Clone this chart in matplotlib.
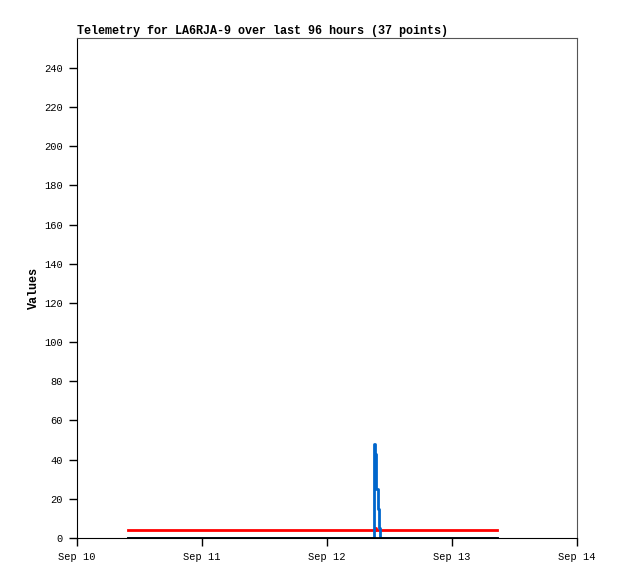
import pandas as pd
import matplotlib
matplotlib.use('Agg')
import matplotlib.pyplot as plt
import matplotlib.dates as mdates
import matplotlib.ticker as ticker

# telemetry samples (37 points)
times = ['2014-09-10 09:48', '2014-09-10 12:00', '2014-09-10 14:30', '2014-09-10 17:00',
         '2014-09-10 19:30', '2014-09-10 22:00', '2014-09-11 00:30', '2014-09-11 03:00',
         '2014-09-11 05:30', '2014-09-11 08:00', '2014-09-11 10:30', '2014-09-11 13:00',
         '2014-09-11 15:30', '2014-09-11 18:00', '2014-09-11 20:30', '2014-09-11 23:00',
         '2014-09-12 01:30', '2014-09-12 04:00', '2014-09-12 06:30', '2014-09-12 08:56',
         '2014-09-12 09:03', '2014-09-12 09:12', '2014-09-12 09:21', '2014-09-12 09:30',
         '2014-09-12 09:45', '2014-09-12 09:57', '2014-09-12 10:10', '2014-09-12 12:30',
         '2014-09-12 15:00', '2014-09-12 17:30', '2014-09-12 20:00', '2014-09-12 22:30',
         '2014-09-13 01:00', '2014-09-13 03:30', '2014-09-13 06:00', '2014-09-13 07:30',
         '2014-09-13 08:38']
blue_vals = [0] * 19 + [25, 48, 43, 34, 25, 15, 5, 0] + [0] * 10
red_vals = [4] * 21 + [5, 5] + [4] * 14
black_vals = [0] * 37

t = pd.to_datetime(times)

fig = plt.figure(figsize=(6.18, 5.79), dpi=100)
ax = fig.add_axes([77/618, 1 - 538/579, 500/618, 500/579])

ax.step(t, red_vals, where='post', color='#ff0000', lw=2, zorder=3)
ax.step(t, blue_vals, where='post', color='#0066cc', lw=2, zorder=4)
ax.step(t, black_vals, where='post', color='black', lw=2, zorder=5)

ax.set_xlim(pd.Timestamp('2014-09-10'), pd.Timestamp('2014-09-14'))
ax.set_ylim(0, 255.3)

font = 'Liberation Mono'
ax.xaxis.set_major_locator(mdates.DayLocator())
ax.xaxis.set_major_formatter(mdates.DateFormatter('%b %d'))
ax.yaxis.set_major_locator(ticker.MultipleLocator(20))
ax.tick_params(direction='out', length=6, width=1, labelsize=7.5, pad=4)
for lab in ax.get_xticklabels() + ax.get_yticklabels():
    lab.set_fontfamily(font)

for s in ['top', 'right']:
    ax.spines[s].set_color('#555555')

ax.set_ylabel('Values', fontfamily=font, fontweight='bold', fontsize=8.5, labelpad=3)
ax.set_title('Telemetry for LA6RJA-9 over last 96 hours (37 points)', loc='left',
             fontfamily=font, fontweight='bold', fontsize=8.5, pad=3)

plt.savefig('out.png', dpi=100)
